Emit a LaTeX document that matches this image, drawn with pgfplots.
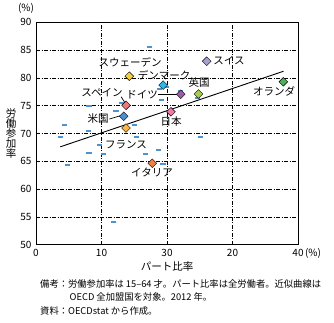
\documentclass[border=0pt]{standalone}
\usepackage{fontspec}
\setmainfont{Noto Sans CJK JP}
\usepackage{pgfplots}
\pgfplotsset{compat=1.18}
\definecolor{cdash}{HTML}{4E93CF}
\definecolor{cswe}{HTML}{F6CE46}
\definecolor{cden}{HTML}{2DB7E8}
\definecolor{cswi}{HTML}{A9A0D2}
\definecolor{cuk}{HTML}{A6CE4E}
\definecolor{cger}{HTML}{9B5AA5}
\definecolor{cned}{HTML}{4DB156}
\definecolor{cspa}{HTML}{F0787A}
\definecolor{cjpn}{HTML}{EE7BAA}
\definecolor{cusa}{HTML}{4D8ECF}
\definecolor{cfra}{HTML}{F9B645}
\definecolor{cita}{HTML}{F07D42}
\begin{document}
\begin{tikzpicture}[x=1pt,y=1pt]
\path[use as bounding box] (0,0) rectangle (334,323);
\begin{axis}[
  at={(36pt,78.3pt)}, anchor=south west,
  scale only axis, width=262pt, height=222.4pt,
  xmin=0, xmax=40, ymin=50, ymax=90,
  xtick={0,10,20,30,40}, xticklabels={0,10,30,20,40},
  ytick={50,55,...,90},
  major tick length=0pt,
  /pgf/number format/assume math mode=true,
  tick label style={font=\fontsize{10}{10}\selectfont},
  xticklabel style={yshift=-1pt},
  yticklabel style={xshift=-1pt},
  grid=major,
  major grid style={black, line width=0.6pt, dash pattern=on 4pt off 1.5pt on 1pt off 1.5pt},
  axis line style={black, line width=0.9pt},
  clip=false,
]
% other OECD countries
\addplot[only marks, mark=-, mark size=2.6pt, color=cdash, mark options={line width=2pt}] coordinates {
(17.3,85.5) (19.95,78.4) (18.8,78.0) (19.2,76.0) (22.1,77.6) (24.6,76.4)
(13.1,75.4) (8.1,74.9) (12.2,74.05) (4.3,71.5) (15.0,71.6) (8.0,70.5)
(3.8,69.4) (15.4,69.4) (25.1,69.4) (9.67,68.0) (8.1,66.55) (10.3,66.4)
(16.7,66.4) (18.7,67.0) (4.8,64.3) (19.4,64.6) (11.8,54.0)
};
% trend line
\addplot[black, line width=0.9pt] coordinates {(3.7,67.6) (37.8,81.2)};
% named countries
\pgfplotsset{dia/.style={only marks, mark=square*, mark size=3.1pt, mark options={rotate=45, draw=none, fill=#1}}}
\addplot[dia=cswe] coordinates {(14.25,80.3)};
\addplot[dia=cden] coordinates {(19.4,78.7)};
\addplot[dia=cswi] coordinates {(26.06,83.0)};
\addplot[dia=cuk] coordinates {(24.8,77.1)};
\addplot[dia=cger] coordinates {(22.1,77.05)};
\addplot[dia=cned] coordinates {(37.76,79.3)};
\addplot[dia=cspa] coordinates {(13.75,75.07)};
\addplot[dia=cjpn] coordinates {(20.6,73.9)};
\addplot[dia=cusa] coordinates {(13.4,73.1)};
\addplot[dia=cfra] coordinates {(13.74,71.0)};
\addplot[dia=cita] coordinates {(17.75,64.65)};
% leader lines
\draw[black, line width=0.7pt] (axis cs:13.0,76.6) -- (axis cs:13.6,75.5);
\draw[black, line width=0.7pt] (axis cs:18.6,77.1) -- (axis cs:21.5,77.1);
\draw[black, line width=0.7pt] (axis cs:11.2,72.6) -- (axis cs:12.9,73.2);
\end{axis}
\tikzset{lab/.style={inner sep=0pt, font=\fontsize{10.5}{10.5}\selectfont}}
\node[lab] at (130,323-62) {スウェーデン};
\node[lab] at (164,323-75) {デンマーク};
\node[lab] at (229,323-61) {スイス};
\node[lab] at (199,323-83) {英国};
\node[lab] at (274,323-91) {オランダ};
\node[lab] at (102,323-93) {スペイン};
\node[lab] at (142,323-95) {ドイツ};
\node[lab] at (98,323-119) {米国};
\node[lab] at (171,323-122) {日本};
\node[lab] at (126,323-145) {フランス};
\node[lab] at (152,323-172) {イタリア};
\node[inner sep=0pt, font=\fontsize{10}{10}\selectfont] at (26,323-8.5) {(\%)};
\node[inner sep=0pt, font=\fontsize{10}{10}\selectfont] at (313,323-253) {(\%)};
\node[lab] at (167,323-267) {パート比率};
\node[inner sep=0pt, font=\fontsize{10.5}{10.5}\selectfont, align=center] at (11,323-134) {労\\[-0.5pt]働\\[-0.5pt]参\\[-0.5pt]加\\[-0.5pt]率};
\node[anchor=west, inner sep=0pt, font=\fontsize{9.3}{9.3}\selectfont] at (40,323-283.5) {備考：労働参加率は 15–64 才。パート比率は全労働者。近似曲線は};
\node[anchor=west, inner sep=0pt, font=\fontsize{9.3}{9.3}\selectfont] at (69.5,323-297) {OECD 全加盟国を対象。2012 年。};
\node[anchor=west, inner sep=0pt, font=\fontsize{9.3}{9.3}\selectfont] at (40,323-310.5) {資料：OECDstat から作成。};
\end{tikzpicture}
\end{document}
